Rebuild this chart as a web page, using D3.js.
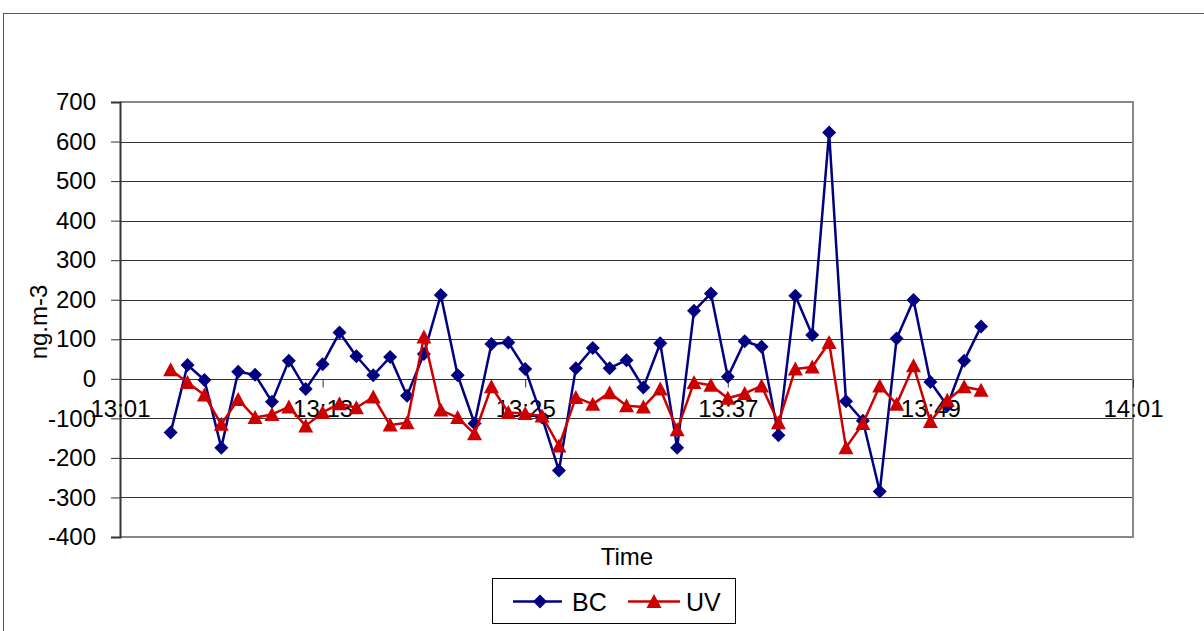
<!DOCTYPE html>
<html>
<head>
<meta charset="utf-8">
<script src="https://cdn.jsdelivr.net/npm/d3@7"></script>
<style>
  html, body { margin: 0; padding: 0; background: #fff; }
  svg { display: block; font-family: "Liberation Sans", Arial, sans-serif; }
</style>
</head>
<body>
<svg id="chart" width="1204" height="631"></svg>
<script>
// ---- data ----
const times = ["13:04","13:05","13:06","13:07","13:08","13:09","13:10","13:11","13:12","13:13",
  "13:14","13:15","13:16","13:17","13:18","13:19","13:20","13:21","13:22","13:23",
  "13:24","13:25","13:26","13:27","13:28","13:29","13:30","13:31","13:32","13:33",
  "13:34","13:35","13:36","13:37","13:38","13:39","13:40","13:41","13:42","13:43",
  "13:44","13:45","13:46","13:47","13:48","13:49","13:50","13:51","13:52"];
const bcValues = [-136,35,-3,-174,18,10,-58,46,-26,37,
  117,57,9,55,-43,63,212,9,-113,88,
  92,25,-98,-232,27,78,27,47,-22,90,
  -174,172,216,5,95,81,-143,210,111,623,
  -57,-106,-285,102,199,-8,-68,46,132];
const uvValues = [23,-9,-41,-115,-52,-98,-90,-71,-119,-85,
  -63,-73,-46,-117,-111,106,-79,-98,-139,-20,
  -85,-88,-94,-170,-47,-64,-35,-68,-71,-26,
  -129,-9,-16,-49,-37,-18,-111,25,30,92,
  -174,-113,-18,-64,33,-108,-54,-20,-29];
const xTickLabels = ["13:01","13:13","13:25","13:37","13:49","14:01"];
const yTicks = [700,600,500,400,300,200,100,0,-100,-200,-300,-400];
const seriesNames = ["BC","UV"];

// ---- layout ----
(function () {
const W = 1204, H = 631;
const pL = 120, pR = 1133, pT = 102, pB = 537;
const parse = d3.timeParse("%H:%M");
const fmt = d3.timeFormat("%H:%M");
const svg = d3.select("#chart");
const FONT = "'Liberation Sans', Arial, sans-serif";

const x = d3.scaleTime()
  .domain([parse(xTickLabels[0]), parse(xTickLabels[xTickLabels.length - 1])])
  .range([pL, pR]);
const y = d3.scaleLinear().domain([-400, 700]).range([pB, pT]);

const colors = { BC: "#000080", UV: "#cc0000" };

// outer chart frame
svg.append("rect").attr("x", 3.5).attr("y", 13.5).attr("width", W + 10).attr("height", H + 10)
  .attr("fill", "#fff").attr("stroke", "#555").attr("stroke-width", 1);

// gridlines
svg.append("g")
  .selectAll("line").data(yTicks).join("line")
  .attr("x1", pL).attr("x2", pR)
  .attr("y1", d => Math.round(y(d)) + 0.5).attr("y2", d => Math.round(y(d)) + 0.5)
  .attr("stroke", "#333").attr("stroke-width", 1);

// plot frame (top/right/bottom gray)
svg.append("path")
  .attr("d", `M${pL},${pT}H${pR}V${pB}H${pL}`)
  .attr("fill", "none").attr("stroke", "#888").attr("stroke-width", 2);

// y axis
const yAxis = d3.axisLeft(y).tickValues(yTicks).tickFormat(d => String(d))
  .tickSize(9).tickPadding(15);
const gy = svg.append("g").attr("transform", `translate(${pL},0)`).call(yAxis);
gy.select(".domain").attr("stroke", "#333").attr("stroke-width", 2);
gy.selectAll(".tick line").attr("stroke", "#333");
gy.selectAll(".tick text").attr("font-size", 24).attr("fill", "#000").attr("font-family", FONT);

// x axis at y = 0
const xAxis = d3.axisBottom(x)
  .tickValues(xTickLabels.map(parse))
  .tickFormat(fmt).tickSize(8).tickPadding(12);
const gx = svg.append("g").attr("transform", `translate(0,${Math.round(y(0)) + 0.5})`).call(xAxis);
gx.select(".domain").remove();
gx.selectAll(".tick line").attr("stroke", "#333");
gx.selectAll(".tick text").attr("font-size", 24).attr("fill", "#000").attr("font-family", FONT);

// axis titles
svg.append("text").attr("x", 627).attr("y", 565).attr("text-anchor", "middle")
  .attr("font-size", 24).text("Time");
svg.append("text").attr("transform", "translate(47,322) rotate(-90)")
  .attr("text-anchor", "middle").attr("font-size", 24).text("ng.m-3");

// series
const series = [
  { name: seriesNames[0], values: bcValues },
  { name: seriesNames[1], values: uvValues }
];
function drawMarker(g, name, cx, cy) {
  if (name === "BC") {
    g.append("path").attr("d", "M0,-7L7,0L0,7L-7,0Z")
      .attr("transform", `translate(${cx},${cy})`).attr("fill", colors.BC);
  } else {
    g.append("path").attr("d", "M0,-7.5L7.5,6.5L-7.5,6.5Z")
      .attr("transform", `translate(${cx},${cy})`).attr("fill", colors.UV);
  }
}
const line = d3.line().x(d => x(parse(d.t))).y(d => y(d.v));
series.forEach(s => {
  const pts = times.map((t, i) => ({ t, v: s.values[i] }));
  const g = svg.append("g");
  g.append("path").datum(pts).attr("d", line).attr("fill", "none")
    .attr("stroke", colors[s.name]).attr("stroke-width", 2.5).attr("stroke-linejoin", "round");
  pts.forEach(p => drawMarker(g, s.name, x(parse(p.t)), y(p.v)));
});

// legend
const lg = svg.append("g");
lg.append("rect").attr("x", 492.5).attr("y", 578.5).attr("width", 243).attr("height", 45)
  .attr("fill", "#fff").attr("stroke", "#000").attr("stroke-width", 1);
const ly = 601.5;
lg.append("line").attr("x1", 513).attr("x2", 562).attr("y1", ly).attr("y2", ly)
  .attr("stroke", colors.BC).attr("stroke-width", 2.5);
drawMarker(lg, "BC", 540, ly);
lg.append("text").attr("x", 572).attr("y", ly + 9).attr("font-size", 25).text(seriesNames[0]);
lg.append("line").attr("x1", 628).attr("x2", 680).attr("y1", ly).attr("y2", ly)
  .attr("stroke", colors.UV).attr("stroke-width", 2.5);
drawMarker(lg, "UV", 654, ly);
lg.append("text").attr("x", 686).attr("y", ly + 9).attr("font-size", 25).text(seriesNames[1]);
})();
</script>
</body>
</html>
